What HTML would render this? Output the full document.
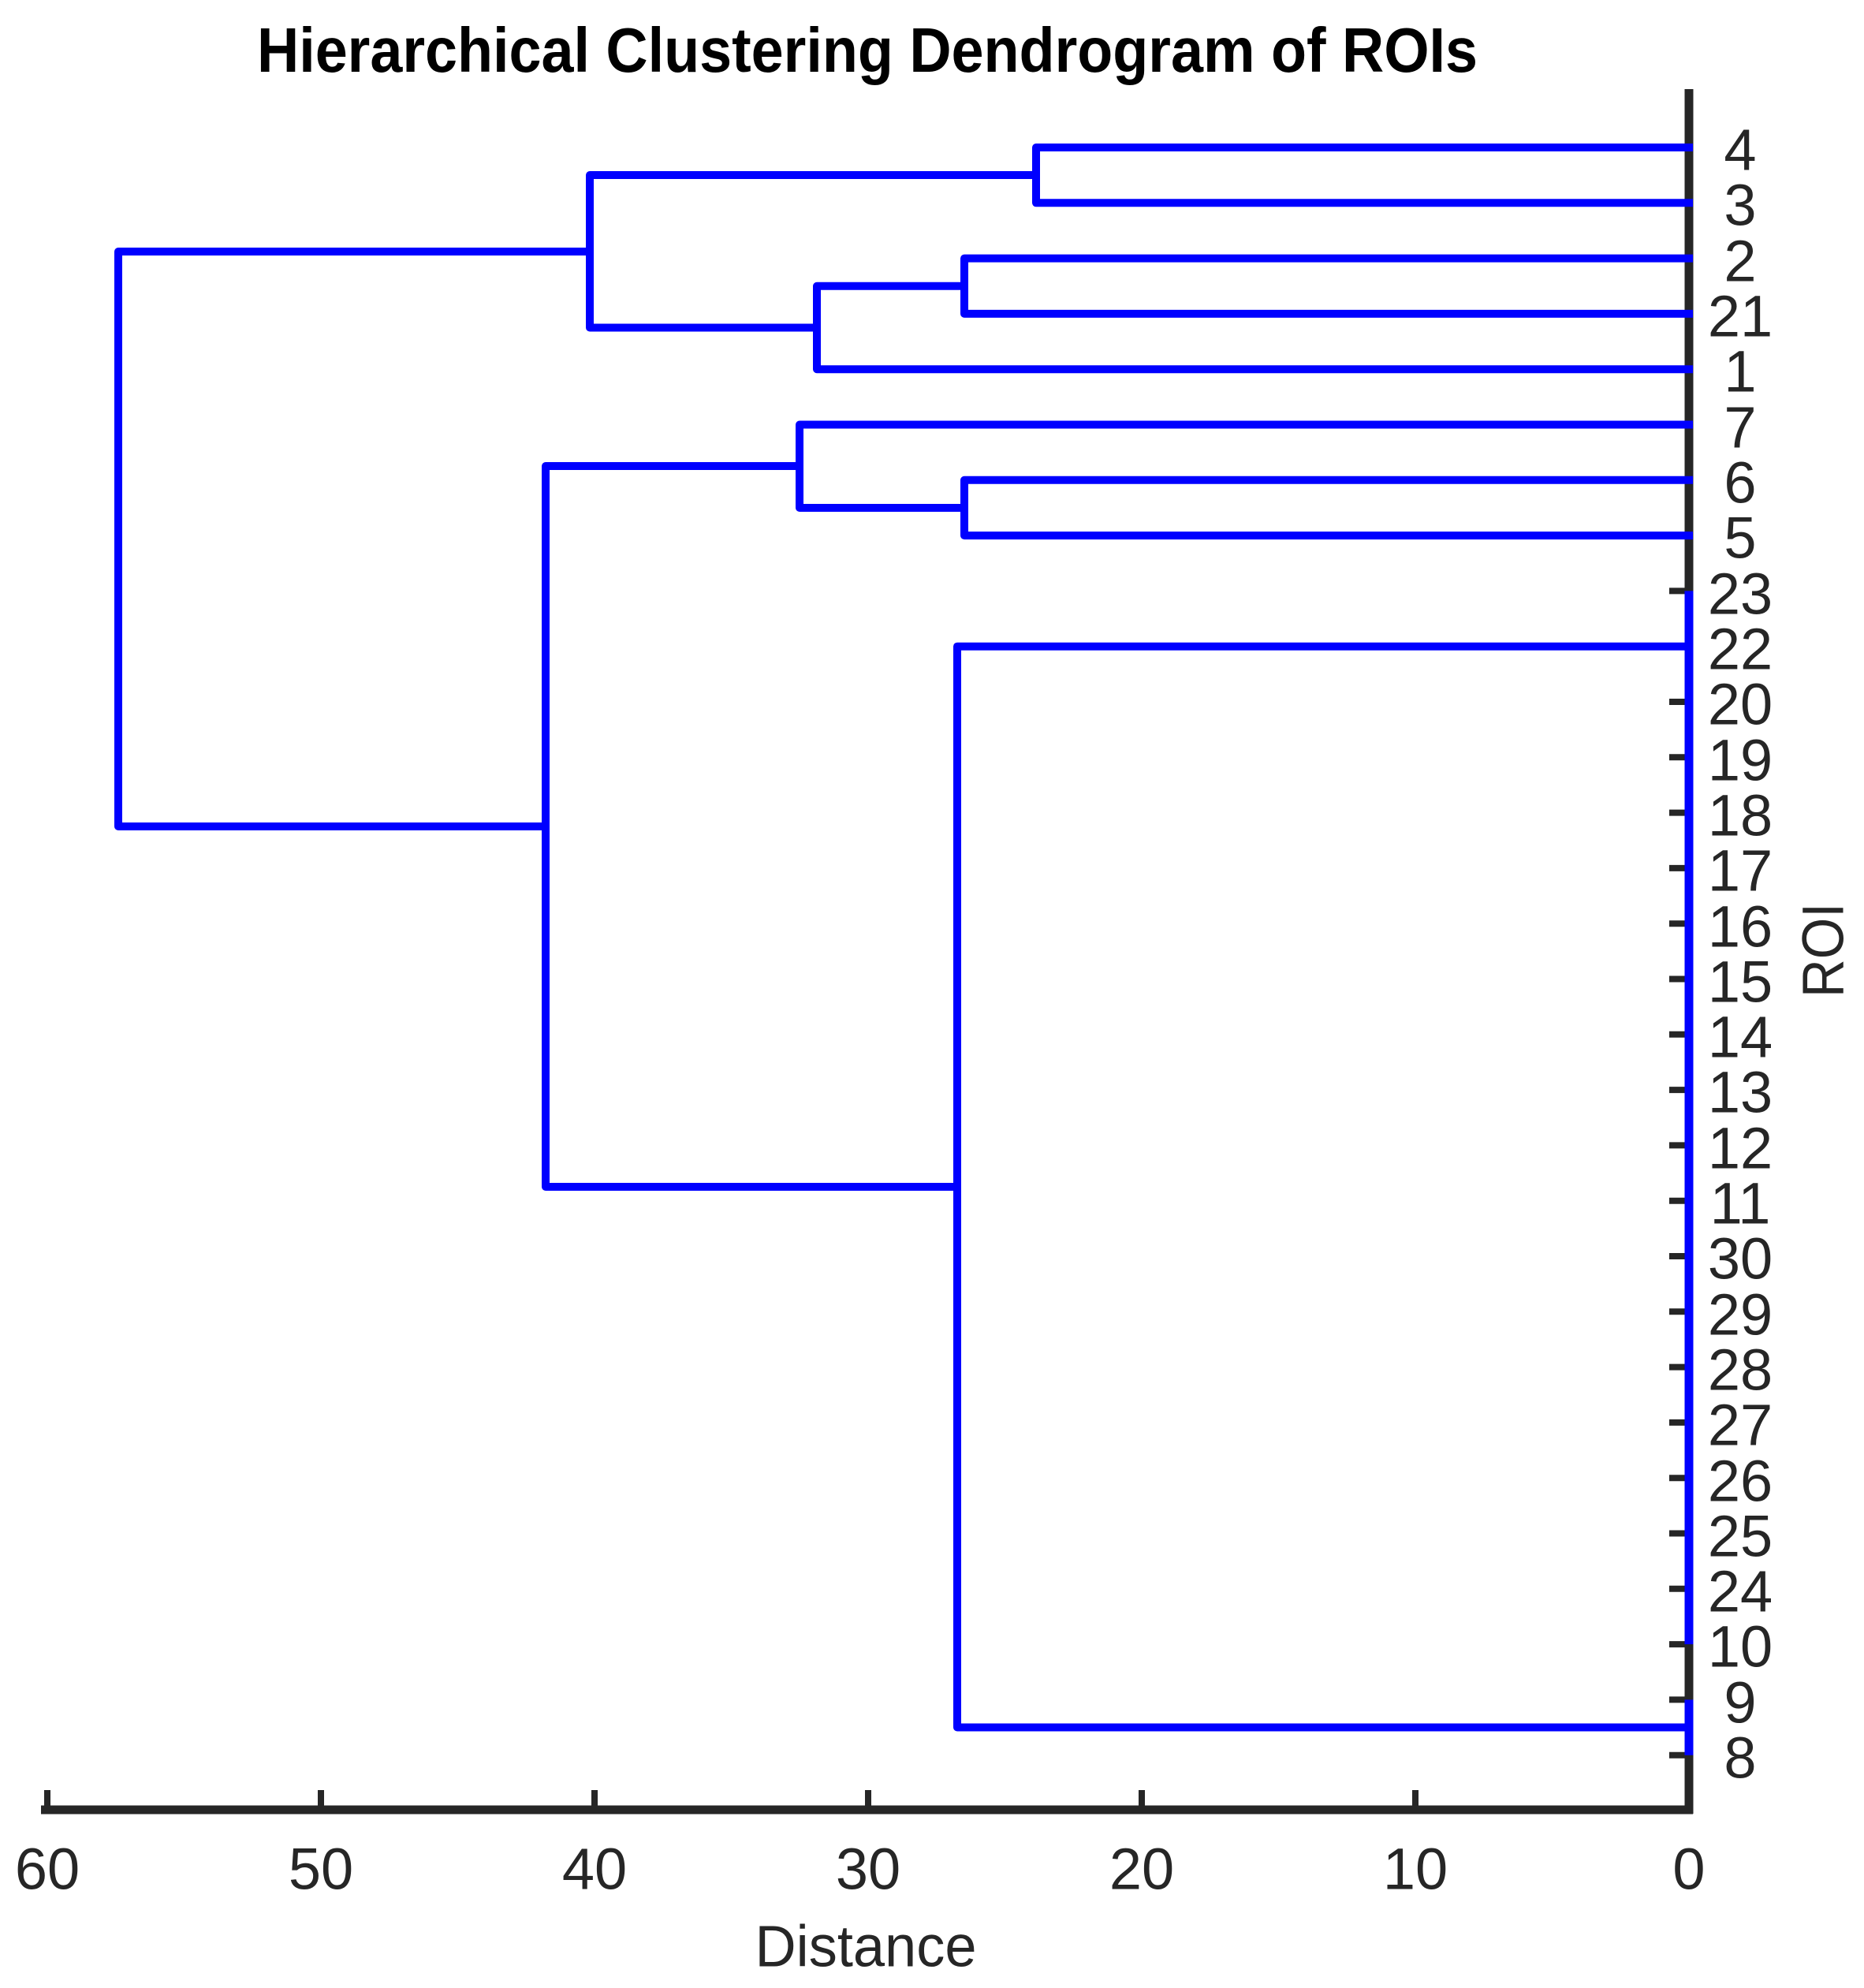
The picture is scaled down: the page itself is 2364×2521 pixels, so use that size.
<!DOCTYPE html>
<html><head><meta charset="utf-8"><style>html,body{margin:0;padding:0;background:#fff}svg{display:block}</style></head>
<body>
<svg width="2364" height="2521" viewBox="0 0 2364 2521" xmlns="http://www.w3.org/2000/svg">
<rect width="2364" height="2521" fill="#fff"/>
<text x="1100" y="91" font-family="Liberation Sans, sans-serif" font-weight="bold" font-size="80" text-anchor="middle" textLength="1548" lengthAdjust="spacingAndGlyphs" fill="#000">Hierarchical Clustering Dendrogram of ROIs</text>
<g stroke="#262626" stroke-width="8">
<line x1="2117" y1="187" x2="2142" y2="187"/><line x1="2117" y1="257.3" x2="2142" y2="257.3"/><line x1="2117" y1="327.6" x2="2142" y2="327.6"/><line x1="2117" y1="397.9" x2="2142" y2="397.9"/><line x1="2117" y1="468.2" x2="2142" y2="468.2"/><line x1="2117" y1="538.5" x2="2142" y2="538.5"/><line x1="2117" y1="608.8" x2="2142" y2="608.8"/><line x1="2117" y1="679.1" x2="2142" y2="679.1"/><line x1="2117" y1="749.4" x2="2142" y2="749.4"/><line x1="2117" y1="819.7" x2="2142" y2="819.7"/><line x1="2117" y1="890" x2="2142" y2="890"/><line x1="2117" y1="960.3" x2="2142" y2="960.3"/><line x1="2117" y1="1030.6" x2="2142" y2="1030.6"/><line x1="2117" y1="1100.9" x2="2142" y2="1100.9"/><line x1="2117" y1="1171.2" x2="2142" y2="1171.2"/><line x1="2117" y1="1241.5" x2="2142" y2="1241.5"/><line x1="2117" y1="1311.8" x2="2142" y2="1311.8"/><line x1="2117" y1="1382.1" x2="2142" y2="1382.1"/><line x1="2117" y1="1452.4" x2="2142" y2="1452.4"/><line x1="2117" y1="1522.7" x2="2142" y2="1522.7"/><line x1="2117" y1="1593" x2="2142" y2="1593"/><line x1="2117" y1="1663.3" x2="2142" y2="1663.3"/><line x1="2117" y1="1733.6" x2="2142" y2="1733.6"/><line x1="2117" y1="1803.9" x2="2142" y2="1803.9"/><line x1="2117" y1="1874.2" x2="2142" y2="1874.2"/><line x1="2117" y1="1944.5" x2="2142" y2="1944.5"/><line x1="2117" y1="2014.8" x2="2142" y2="2014.8"/><line x1="2117" y1="2085.1" x2="2142" y2="2085.1"/><line x1="2117" y1="2155.4" x2="2142" y2="2155.4"/><line x1="2117" y1="2225.7" x2="2142" y2="2225.7"/>
<line x1="60" y1="2295" x2="60" y2="2270"/><line x1="407" y1="2295" x2="407" y2="2270"/><line x1="754" y1="2295" x2="754" y2="2270"/><line x1="1101" y1="2295" x2="1101" y2="2270"/><line x1="1448" y1="2295" x2="1448" y2="2270"/><line x1="1795" y1="2295" x2="1795" y2="2270"/>
</g>
<line x1="2142" y1="113" x2="2142" y2="2300" stroke="#262626" stroke-width="11"/>
<line x1="52" y1="2295" x2="2147" y2="2295" stroke="#262626" stroke-width="11"/>
<g stroke="#0000ff" stroke-width="10" fill="none" stroke-linejoin="round" stroke-linecap="square">
<polyline points="2142,187 1314,187 1314,257.3 2142,257.3"/>
<polyline points="2142,327.6 1223,327.6 1223,397.9 2142,397.9"/>
<polyline points="1223,362.8 1036,362.8 1036,468.2 2142,468.2"/>
<polyline points="1314,222 748,222 748,415.5 1036,415.5"/>
<polyline points="2142,608.8 1223,608.8 1223,679.1 2142,679.1"/>
<polyline points="2142,538.5 1014,538.5 1014,644 1223,644"/>
<polyline points="2142,819.7 1214,819.7 1214,2190.5 2142,2190.5"/>
<polyline points="1014,591 692,591 692,1505 1214,1505"/>
<polyline points="748,319 150,319 150,1048 692,1048"/>
<line x1="2142" y1="749.4" x2="2142" y2="2085.1" stroke-width="11" stroke-linecap="butt"/>
<line x1="2142" y1="2155.4" x2="2142" y2="2225.7" stroke-width="11" stroke-linecap="butt"/>
</g>
<g font-family="Liberation Sans, sans-serif" font-size="74" fill="#262626" text-anchor="middle" dominant-baseline="central">
<text x="2207" y="190">4</text><text x="2207" y="260">3</text><text x="2207" y="331">2</text><text x="2207" y="401">21</text><text x="2207" y="471">1</text><text x="2207" y="542">7</text><text x="2207" y="612">6</text><text x="2207" y="682">5</text><text x="2207" y="753">23</text><text x="2207" y="823">22</text><text x="2207" y="893">20</text><text x="2207" y="964">19</text><text x="2207" y="1034">18</text><text x="2207" y="1104">17</text><text x="2207" y="1175">16</text><text x="2207" y="1245">15</text><text x="2207" y="1315">14</text><text x="2207" y="1385">13</text><text x="2207" y="1456">12</text><text x="2207" y="1526">11</text><text x="2207" y="1596">30</text><text x="2207" y="1667">29</text><text x="2207" y="1737">28</text><text x="2207" y="1807">27</text><text x="2207" y="1878">26</text><text x="2207" y="1948">25</text><text x="2207" y="2018">24</text><text x="2207" y="2088">10</text><text x="2207" y="2159">9</text><text x="2207" y="2229">8</text>
<text x="60" y="2370">60</text><text x="407" y="2370">50</text><text x="754" y="2370">40</text><text x="1101" y="2370">30</text><text x="1448" y="2370">20</text><text x="1795" y="2370">10</text><text x="2142" y="2370">0</text>
<text x="1098" y="2468" textLength="281" lengthAdjust="spacingAndGlyphs">Distance</text>
<text x="2312" y="1205" transform="rotate(-90 2312 1205)" textLength="120" lengthAdjust="spacingAndGlyphs">ROI</text>
</g>
</svg>
</body></html>
